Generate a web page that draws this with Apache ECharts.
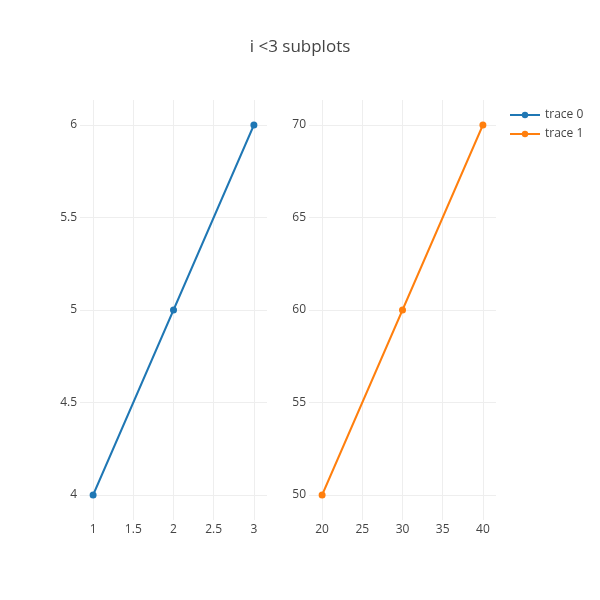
<!DOCTYPE html>
<html>
<head>
<meta charset="utf-8">
<script src="https://cdn.jsdelivr.net/npm/echarts@6/dist/echarts.min.js"></script>
<style>html,body{margin:0;padding:0;background:#fff}#main{width:600px;height:600px}</style>
</head>
<body>
<div id="main"></div>
<script>
const titleText = 'i <3 subplots';
const seriesNames = ['trace 0', 'trace 1'];
const x0 = [1, 2, 3];
const y0 = [4, 5, 6];
const x1 = [20, 30, 40];
const y1 = [50, 60, 70];
const colors = ['#1f77b4', '#ff7f0e'];

const font = '"Open Sans", "Noto Sans", sans-serif';
const chart = echarts.init(document.getElementById('main'), null, {renderer: 'canvas'});

function valAxis(gridIndex, min, max, isX) {
  return {
    type: 'value',
    gridIndex: gridIndex,
    min: min,
    max: max,
    scale: true,
    axisLine: {show: false},
    axisTick: {show: false},
    axisLabel: {
      color: '#444', fontSize: 12, fontFamily: font,
      margin: isX ? 4 : 3,
      showMinLabel: false, showMaxLabel: false
    },
    splitLine: {show: true, showMinLine: false, showMaxLine: false, lineStyle: {color: '#eeeeee', width: 1}}
  };
}

const option = {
  backgroundColor: '#fff',
  animation: false,
  title: {
    text: titleText,
    left: 'center',
    top: 34,
    textStyle: {color: '#444', fontSize: 17, fontWeight: 'normal', fontFamily: font}
  },
  legend: {
    orient: 'vertical',
    left: 504,
    top: 104,
    itemWidth: 30,
    itemHeight: 8,
    itemGap: 7,
    textStyle: {color: '#444', fontSize: 12, fontFamily: font},
    data: seriesNames
  },
  grid: [
    {left: 80, top: 100, width: 187, height: 420},
    {left: 309, top: 100, width: 187, height: 420}
  ],
  xAxis: [
    valAxis(0, 0.837, 3.163, true),
    valAxis(1, 18.37, 41.63, true)
  ],
  yAxis: [
    valAxis(0, 3.865, 6.135, false),
    valAxis(1, 48.65, 71.35, false)
  ],
  series: [
    {
      name: seriesNames[0], type: 'line', xAxisIndex: 0, yAxisIndex: 0,
      data: x0.map((x, i) => [x, y0[i]]),
      symbol: 'circle', symbolSize: 7,
      lineStyle: {color: colors[0], width: 2},
      itemStyle: {color: colors[0]}
    },
    {
      name: seriesNames[1], type: 'line', xAxisIndex: 1, yAxisIndex: 1,
      data: x1.map((x, i) => [x, y1[i]]),
      symbol: 'circle', symbolSize: 7,
      lineStyle: {color: colors[1], width: 2},
      itemStyle: {color: colors[1]}
    }
  ]
};
chart.setOption(option);
</script>
</body>
</html>
